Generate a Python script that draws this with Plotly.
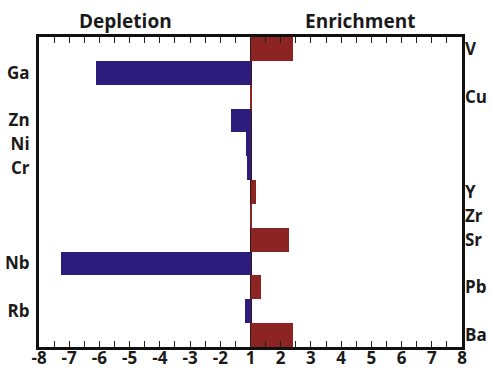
import plotly.graph_objects as go

# Elements, top row first, with their enrichment (+) / depletion (-) factors
elements = ["V", "Ga", "Cu", "Zn", "Ni", "Cr", "Y", "Zr", "Sr", "Nb", "Pb", "Rb", "Ba"]
factors = [2.42, -6.13, 1.03, -1.63, -1.14, -1.13, 1.17, 1.06, 2.29, -7.26, 1.36, -1.17, 2.39]

# Folded axis: the centre line stands for a factor of 1 on both sides
tick_factors = [-8, -7, -6, -5, -4, -3, -2, 1, 2, 3, 4, 5, 6, 7, 8]


def fold(v):
    return v - 1 if v >= 1 else v + 1


tick_pos = [fold(t) for t in tick_factors]
tick_text = [str(t) for t in tick_factors]

dep_idx = [i for i, v in enumerate(factors) if v < 0]
enr_idx = [i for i, v in enumerate(factors) if v >= 0]

BLUE = "#2c1c7c"
RED = "#8c2424"
INK = "#1a1a1a"
FONT = "Open Sans"

fig = go.Figure()
fig.add_trace(go.Bar(
    orientation="h",
    y=dep_idx,
    x=[fold(factors[i]) for i in dep_idx],
    marker=dict(color=BLUE, line=dict(width=0)),
    width=1.0,
    yaxis="y",
    showlegend=False,
))
fig.add_trace(go.Bar(
    orientation="h",
    y=enr_idx,
    x=[fold(factors[i]) for i in enr_idx],
    marker=dict(color=RED, line=dict(width=0)),
    width=1.0,
    yaxis="y2",
    showlegend=False,
))

yrange = [len(elements) - 0.5, -0.5]
label_font = dict(family=FONT, size=17, color=INK, weight="bold")

fig.update_layout(
    width=491,
    height=370,
    margin=dict(l=39, r=29, t=37, b=23),
    plot_bgcolor="white",
    paper_bgcolor="white",
    barmode="overlay",
    bargap=0,
    font=dict(family=FONT, size=15, color=INK),
    xaxis=dict(
        range=[-7, 7],
        tickvals=tick_pos,
        ticktext=tick_text,
        ticks="inside",
        ticklen=6,
        tickwidth=1,
        tickcolor="#222",
        minor=dict(dtick=0.5, tick0=0, ticks="inside", ticklen=3, tickcolor="#222"),
        showgrid=False,
        zeroline=True,
        zerolinecolor="#3a1515",
        zerolinewidth=1.5,
        showline=True,
        linecolor="#111",
        linewidth=3,
        mirror="allticks",
        tickfont=dict(family=FONT, size=17, color=INK, weight="bold"),
        ticklabelstandoff=-6,
        automargin=False,
        fixedrange=True,
    ),
    yaxis=dict(
        range=yrange,
        tickvals=dep_idx,
        ticktext=[elements[i] for i in dep_idx],
        ticks="",
        showgrid=False,
        zeroline=False,
        showline=True,
        linecolor="#111",
        linewidth=3,
        mirror=True,
        tickfont=label_font,
        ticklabelstandoff=3,
        automargin=False,
    ),
    yaxis2=dict(
        range=yrange,
        overlaying="y",
        side="right",
        tickvals=enr_idx,
        ticktext=[elements[i] for i in enr_idx],
        ticks="",
        showgrid=False,
        zeroline=False,
        showline=False,
        tickfont=label_font,
        ticklabelstandoff=2,
        automargin=False,
    ),
)

fig.add_annotation(x=0.205, y=1.0, xref="paper", yref="paper",
                   xanchor="center", yanchor="bottom", yshift=1,
                   text="<b>Depletion</b>", showarrow=False,
                   font=dict(family=FONT, size=19, color=INK))
fig.add_annotation(x=0.76, y=1.0, xref="paper", yref="paper",
                   xanchor="center", yanchor="bottom", yshift=1,
                   text="<b>Enrichment</b>", showarrow=False,
                   font=dict(family=FONT, size=19, color=INK))

fig.write_html("out.html")
